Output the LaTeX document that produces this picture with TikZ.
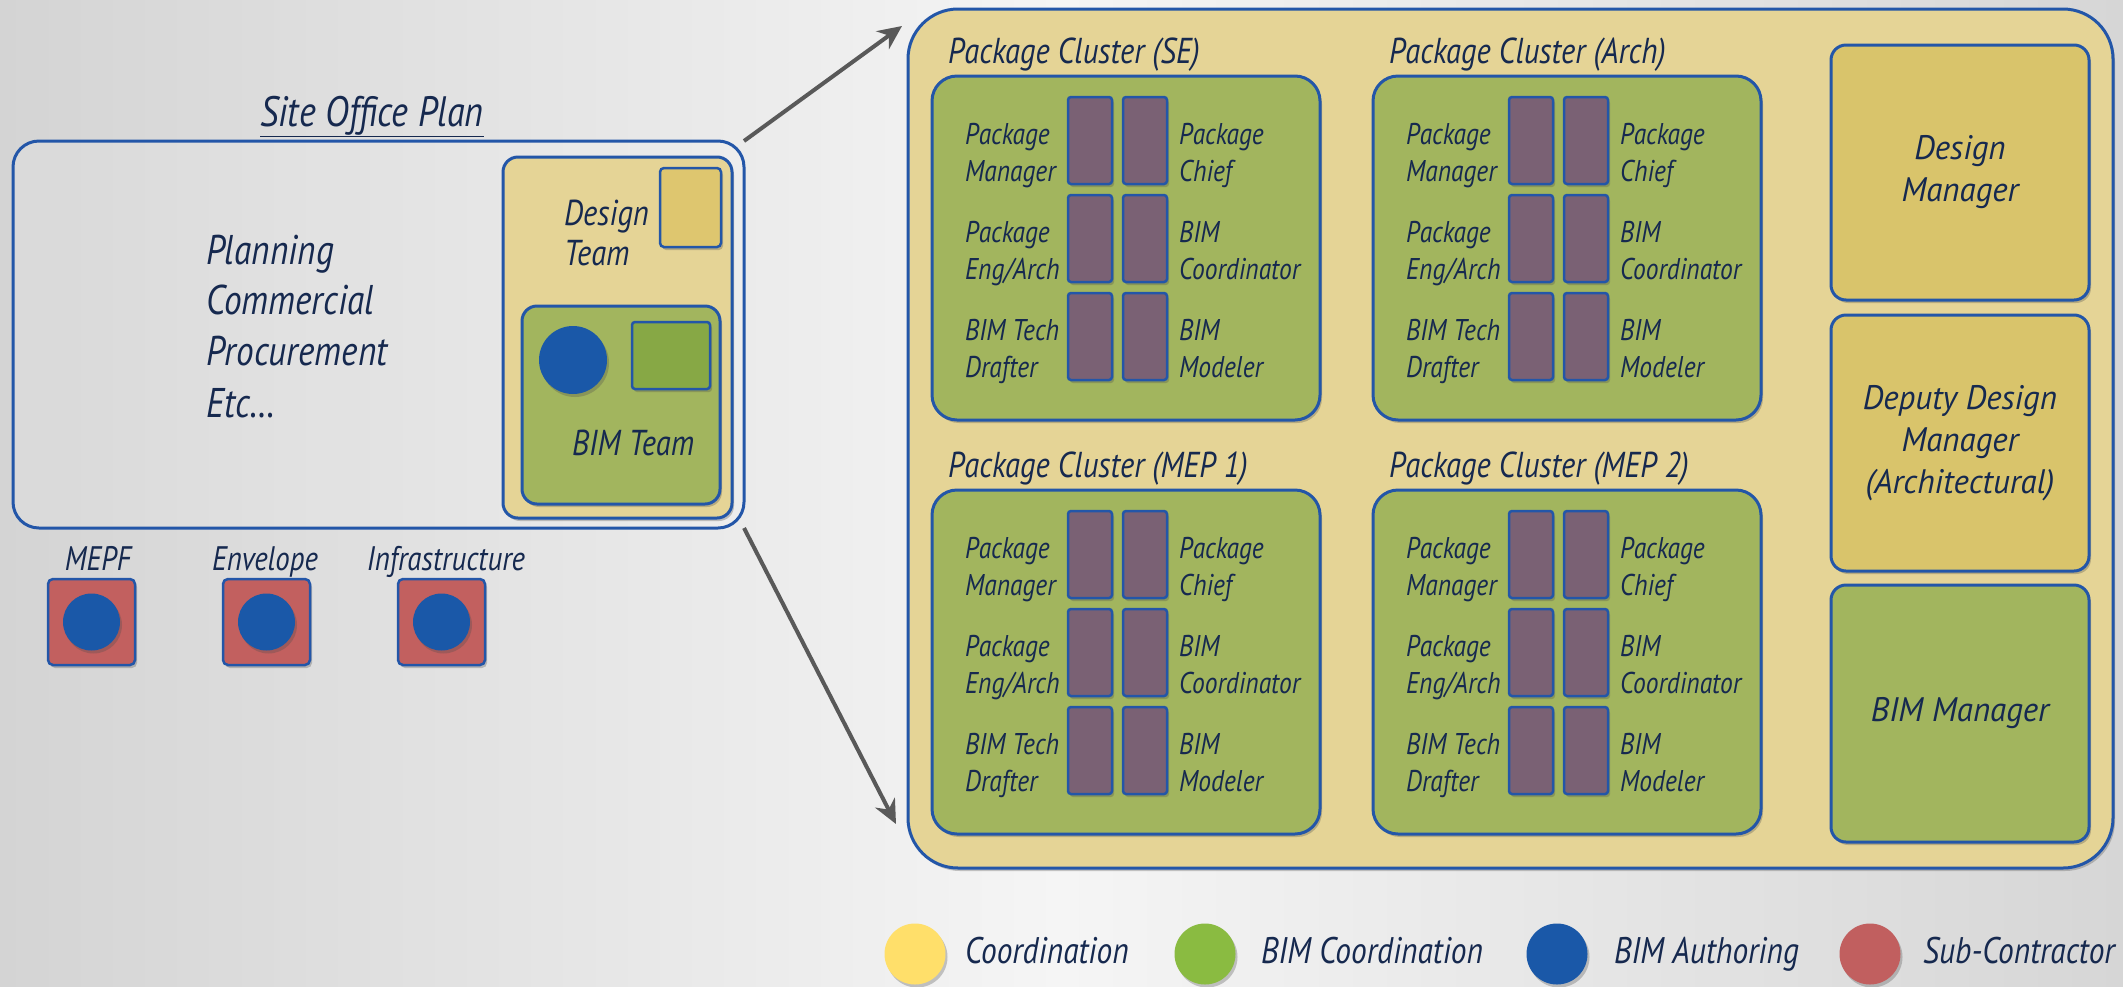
\documentclass[tikz,border=0pt]{standalone}
\usepackage{fontspec}
\setmainfont{PT Sans}[FakeStretch=0.85]
\newfontfamily\widefont{PT Sans}[FakeStretch=0.97]
\usetikzlibrary{arrows.meta,shadows}
\definecolor{bblue}{HTML}{2356A8}
\definecolor{navy}{HTML}{16294F}
\definecolor{contyel}{HTML}{E5D496}
\definecolor{rightyel}{HTML}{D9C46B}
\definecolor{smallyel}{HTML}{DEC66F}
\definecolor{clgreen}{HTML}{A2B55E}
\definecolor{smallgreen}{HTML}{87A845}
\definecolor{purpc}{HTML}{7A6174}
\definecolor{bluec}{HTML}{1A58A8}
\definecolor{redsq}{HTML}{C2605F}
\definecolor{lgyel}{HTML}{FFDF6A}
\definecolor{lggreen}{HTML}{8ABB41}
\definecolor{lgred}{HTML}{C15F5F}
\definecolor{arrgray}{HTML}{595959}
\definecolor{bgL}{HTML}{D4D4D4}
\definecolor{bgM}{HTML}{F5F5F5}
\definecolor{bgR}{HTML}{D6D6D6}
\newcommand\fs[2]{\fontsize{#1}{#2}\selectfont\itshape}
\newcommand\clrow[8]{%
 \pgfmathsetmacro\ry{#3+21+98*#4}%
 \pgfmathsetmacro\by{#3+68+98*#4}%
 \pgfmathsetmacro\byb{#3+105+98*#4}%
 \pgfmathsetmacro\lx{#2+33}%
 \pgfmathsetmacro\rx{#2+247}%
 \pgfmathsetmacro\pa{#2+136}%
 \pgfmathsetmacro\pb{#2+191}%
 \node[purpbox] (#1-pa#4) at (\pa,\ry) {};
 \node[purpbox] (#1-pb#4) at (\pb,\ry) {};
 \node[lab] (#1-la#4) at (\lx,\by) {#5};
 \node[lab] (#1-lb#4) at (\lx,\byb) {#6};
 \node[lab] (#1-ra#4) at (\rx,\by) {#7};
 \node[lab] (#1-rb#4) at (\rx,\byb) {#8};
}
\newcommand\cluster[4]{%
 \node[clbox] (#1) at (#2,#3) {};
 \pgfmathsetmacro\tx{#2+16}\pgfmathsetmacro\ty{#3-13}%
 \node[cltitle] (#1-t) at (\tx,\ty) {Package Cluster (#4)};
 \clrow{#1}{#2}{#3}{0}{Package}{Manager}{Package}{Chief}
 \clrow{#1}{#2}{#3}{1}{Package}{Eng/Arch}{BIM}{Coordinator}
 \clrow{#1}{#2}{#3}{2}{BIM Tech}{Drafter}{BIM}{Modeler}
}
\begin{document}
\begin{tikzpicture}[x=1pt,y=-1pt,
  shd/.style={drop shadow={shadow xshift=2pt,shadow yshift=-3pt,opacity=0.3,fill=black!70}},
  box/.style={draw=bblue,line width=3,anchor=north west,inner sep=0,outer sep=0},
  clbox/.style={box,fill=clgreen,rounded corners=25,minimum width=388,minimum height=344,shd},
  purpbox/.style={box,line width=2.5,fill=purpc,rounded corners=3,minimum width=44,minimum height=87,shd},
  lab/.style={anchor=base west,inner sep=0,text=navy,font=\fs{30}{34}},
  cltitle/.style={anchor=base west,inner sep=0,text=navy,font=\fs{36}{40}},
  txt/.style={inner sep=0,text=navy},
  rtxt/.style={txt,align=center,font=\widefont\fs{34}{42}},
  rbox/.style={box,rounded corners=15,minimum width=258,shd},
  arr/.style={draw=arrgray,line width=4,-{Stealth[length=24pt,width=22pt]}},
  dot/.style={circle,fill=bluec,inner sep=0,shd},
  lgdot/.style={circle,inner sep=0,minimum size=61,shd}
]
\useasboundingbox (0,0) rectangle (2123,986);
\shade[left color=bgL,right color=bgR,middle color=bgM] (0,0) rectangle (2123,986);

% site office
\node[txt,anchor=base,font=\fs{42.5}{48}] (sotitle) at (372,126) {\underline{Site Office Plan}};
\node[box,draw=bblue,fill=white,fill opacity=0.12,rounded corners=26,minimum width=731,minimum height=387] (site) at (13,141) {};
\node[txt,anchor=base west,font=\fs{41.5}{48}] (pl1) at (206,264) {Planning};
\node[txt,anchor=base west,font=\fs{41.5}{48}] (pl2) at (206,314) {Commercial};
\node[txt,anchor=base west,font=\fs{41.5}{48}] (pl3) at (206,365) {Procurement};
\node[txt,anchor=base west,font=\fs{41.5}{48}] (pl4) at (206,417) {Etc\dots};

\node[box,fill=contyel,rounded corners=15,minimum width=229,minimum height=361,shd] (dteam) at (503,157) {};
\node[box,line width=2.5,fill=smallyel,rounded corners=4,minimum width=61,minimum height=79,shd] (dsq) at (660,168) {};
\node[txt,anchor=base west,font=\fs{36}{40}] (dt1) at (564,225) {Design};
\node[txt,anchor=base west,font=\fs{36}{40}] (dt2) at (564,265) {Team};
\node[box,fill=clgreen,rounded corners=15,minimum width=198,minimum height=198,shd] (bimb) at (522,306) {};
\node[dot,minimum size=68] (bimdot) at (573,360) {};
\node[box,line width=2.5,fill=smallgreen,rounded corners=3,minimum width=78,minimum height=67,shd] (gsq) at (632,322) {};
\node[txt,anchor=base west,font=\fs{36}{40}] (bimt) at (572,455) {BIM Team};

% subcontractors
\node[txt,anchor=base,font=\fs{34}{40}] (l1) at (98,570) {MEPF};
\node[txt,anchor=base,font=\fs{34}{40}] (l2) at (265,570) {Envelope};
\node[txt,anchor=base,font=\fs{34}{40}] (l3) at (446,570) {Infrastructure};
\node[box,line width=2.5,fill=redsq,rounded corners=5,minimum width=87,minimum height=86,shd] (r1) at (48,579) {};
\node[box,line width=2.5,fill=redsq,rounded corners=5,minimum width=87,minimum height=86,shd] (r2) at (223,579) {};
\node[box,line width=2.5,fill=redsq,rounded corners=5,minimum width=87,minimum height=86,shd] (r3) at (398,579) {};
\node[dot,minimum size=57] (c1) at (r1.center) {};
\node[dot,minimum size=57] (c2) at (r2.center) {};
\node[dot,minimum size=57] (c3) at (r3.center) {};

% container
\node[box,fill=contyel,rounded corners=50,minimum width=1205,minimum height=859,shd] (cont) at (908,9) {};
\coordinate (a1) at (902,26);
\coordinate (a2) at (896,824);
\draw[arr] (site.north east) -- (a1);
\draw[arr] (site.south east) -- (a2);

\cluster{se}{932}{76}{SE}
\cluster{arch}{1373}{76}{Arch}
\cluster{mepa}{932}{490}{MEP 1}
\cluster{mepb}{1373}{490}{MEP 2}

\node[rbox,fill=rightyel,minimum height=255] (dm) at (1831,45) {};
\node[rbox,fill=rightyel,minimum height=256] (ddm) at (1831,315) {};
\node[rbox,fill=clgreen,minimum height=257] (bm) at (1831,585) {};
\node[rtxt] (dmt) at (dm.center) {Design\\Manager};
\node[rtxt] (ddmt) at (ddm.center) {Deputy Design\\Manager\\(Architectural)};
\node[rtxt] (bmt) at (bm.center) {BIM Manager};

% legend
\node[lgdot,fill=lgyel] (g1) at (915,954) {};
\node[lgdot,fill=lggreen] (g2) at (1205,954) {};
\node[lgdot,fill=bluec] (g3) at (1557,954) {};
\node[lgdot,fill=lgred] (g4) at (1870,954) {};
\node[txt,anchor=base west,font=\fs{37}{40}] (gt1) at (965,963) {Coordination};
\node[txt,anchor=base west,font=\fs{37}{40}] (gt2) at (1261,963) {BIM Coordination};
\node[txt,anchor=base west,font=\fs{37}{40}] (gt3) at (1614,963) {BIM Authoring};
\node[txt,anchor=base west,font=\fs{37}{40}] (gt4) at (1923,963) {Sub-Contractor};
\end{tikzpicture}
\end{document}
